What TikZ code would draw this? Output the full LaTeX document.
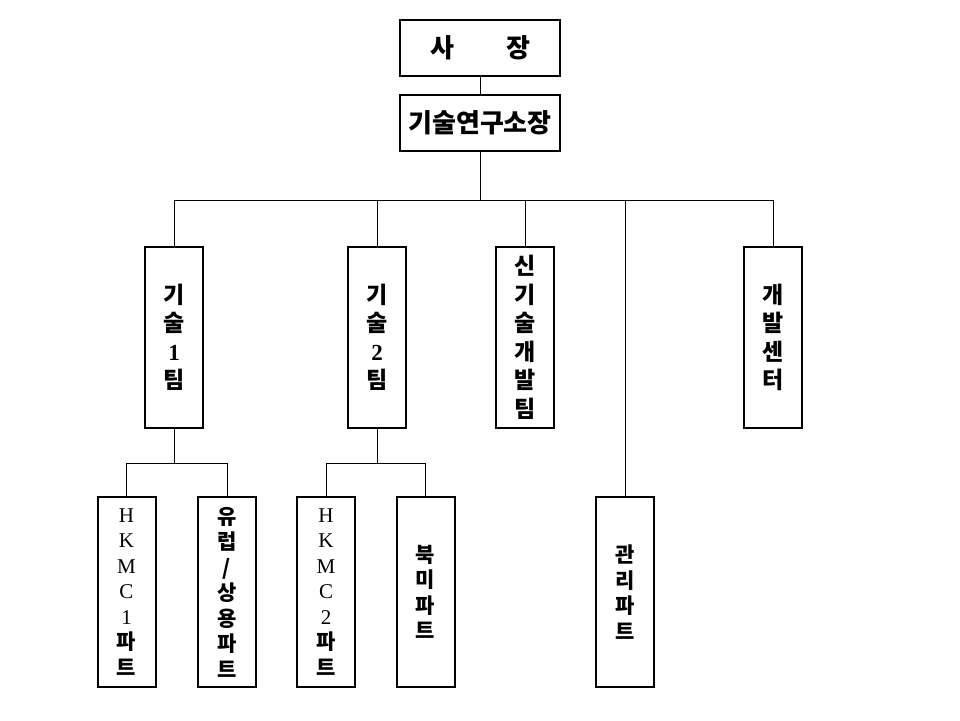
\documentclass[tikz,border=0pt]{standalone}
\usepackage{fontspec}
\setmainfont{Noto Sans CJK KR}
\newfontfamily\lat{Liberation Serif}
\begin{document}
\begin{tikzpicture}[x=1pt,y=-1pt,
  box/.style={draw=black,line width=2pt,rectangle,inner sep=0pt,align=center,fill=white},
  title/.style={box,minimum width=160pt,minimum height=56pt,font=\fontsize{26}{28}\selectfont\bfseries},
  team/.style={box,minimum width=58pt,minimum height=181pt,font=\fontsize{23}{28.5}\selectfont\bfseries},
  part/.style={box,minimum width=58pt,minimum height=190pt,font=\fontsize{21}{25.5}\selectfont\bfseries},
  conn/.style={draw=black,line width=1pt}]
\useasboundingbox (0,0) rectangle (960,720);
\node[title] (sa) at (480,47.5) {사\hspace{2em}장};
\node[title] (lab) at (480,123) {기술연구소장};
\node[team] (t1) at (174,337.5) {기\\술\\{\lat 1}\\팀};
\node[team] (t2) at (377,337.5) {기\\술\\{\lat 2}\\팀};
\node[team] (nt) at (525,337.5) {신\\기\\술\\개\\발\\팀};
\node[team] (dc) at (773,337.5) {개\\발\\센\\터};
\node[part] (p1) at (126.5,592) {{\lat\mdseries H}\\{\lat\mdseries K}\\{\lat\mdseries M}\\{\lat\mdseries C}\\{\lat\mdseries 1}\\파\\트};
\node[part] (p2) at (227,592) {유\\럽\\/\\상\\용\\파\\트};
\node[part] (p3) at (326,592) {{\lat\mdseries H}\\{\lat\mdseries K}\\{\lat\mdseries M}\\{\lat\mdseries C}\\{\lat\mdseries 2}\\파\\트};
\node[part] (p4) at (425.5,592) {북\\미\\파\\트};
\node[part] (mg) at (625,592) {관\\리\\파\\트};
\coordinate (bus) at (480,200);
\coordinate (b1) at (174,463);
\coordinate (b2) at (377,463);
\draw[conn] (sa.south) -- (lab.north);
\draw[conn] (lab.south) -- (bus);
\draw[conn] (t1.north) |- (bus);
\draw[conn] (t2.north) |- (bus);
\draw[conn] (nt.north) |- (bus);
\draw[conn] (mg.north) |- (bus);
\draw[conn] (dc.north) |- (bus);
\draw[conn] (t1.south) -- (b1);
\draw[conn] (p1.north) |- (b1);
\draw[conn] (p2.north) |- (b1);
\draw[conn] (t2.south) -- (b2);
\draw[conn] (p3.north) |- (b2);
\draw[conn] (p4.north) |- (b2);
\end{tikzpicture}
\end{document}
